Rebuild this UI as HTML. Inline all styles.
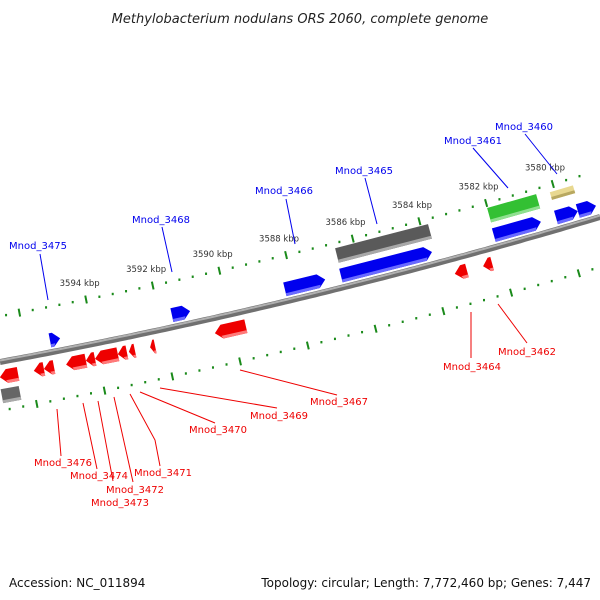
<!DOCTYPE html>
<html><head><meta charset="utf-8"><style>
body{margin:0;background:#fff}
svg{display:block;font-family:"DejaVu Sans","Liberation Sans",sans-serif}
</style></head><body>
<svg id="c" width="600" height="600" viewBox="0 0 600 600">
<text x="300" y="23" text-anchor="middle" font-size="13" font-style="italic" fill="#222">Methylobacterium nodulans ORS 2060, complete genome</text>
<text x="9" y="587" font-size="12" fill="#111">Accession: NC_011894</text>
<text x="591" y="587" font-size="12" fill="#111" text-anchor="end">Topology: circular; Length: 7,772,460 bp; Genes: 7,447</text>
<g id="ticks"></g><g id="bb"></g><g id="feat"></g><g id="lab"></g>
</svg>
<script>
// data
const featNames=["3475","3468","3466","3465","b5","b6","b7","g-left","grey-cds","green-cds","yellow-cds","r1","r2","r3","r4","r5","r6","r7","r8","r9","r10","r11","r12"];
const featStart=[3595.34,3591.71,3588.35,3586.68,3582.13,3580.28,3579.63,3596.77,3586.8,3582.27,3580.43,3596.83,3595.82,3595.52,3594.86,3594.27,3594.0,3593.32,3592.99,3592.36,3590.43,3583.29,3582.45];
const featEnd=[3595.04,3591.17,3587.15,3583.97,3580.73,3579.63,3579.09,3596.23,3584.03,3580.81,3579.74,3596.29,3595.52,3595.22,3594.27,3594.0,3593.32,3593.05,3592.81,3592.21,3589.51,3582.93,3582.18];
const featType=["b","b","b","b","b","b","b","gl","gr","gn","ye","r","r","r","r","r","r","r","r","r","r","r","r"];
const majorTicks=[3596,3594,3592,3590,3588,3586,3584,3582,3580];
const tickLabels=["","3594 kbp","3592 kbp","3590 kbp","3588 kbp","3586 kbp","3584 kbp","3582 kbp","3580 kbp"];
const labNames=["Mnod_3475","Mnod_3468","Mnod_3466","Mnod_3465","Mnod_3461","Mnod_3460","Mnod_3476","Mnod_3474","Mnod_3472","Mnod_3473","Mnod_3471","Mnod_3470","Mnod_3469","Mnod_3467","Mnod_3464","Mnod_3462"];
const labX=[38,161,284,364,473,524,63,99,135,120,163,218,279,339,472,527];
const labY=[249,223,194,174,144,130,466,479,493,506,476,433,419,405,370,355];
const labLines=[[40,254,48,300],[162,227,172,272],[286,199,295,244],[365,178,377,224],[473,148,508,188],[525,134,557,174],[57,409,61,456],[83,403,97,469],[98,401,113,481],[114,397,133,482],[130,394,155,440,160,466],[140,392,215,423],[160,388,277,408],[240,370,337,395],[471,312,471,358],[498,304,527,343]];

const NS="http://www.w3.org/2000/svg";
function mk(t,a,p){const e=document.createElementNS(NS,t);for(const k in a)e.setAttribute(k,a[k]);p.appendChild(e);return e;}
function xOf(k){return 95+(3594-k)*33.6;}
function by(x){const t=x/600;return (1-t)*(1-t)*362+2*t*(1-t)*306.5+t*t*217;}
function slope(x){return (by(x+0.5)-by(x-0.5));}
function pt(x,d){const s=slope(x),L=Math.hypot(1,s);return [x+s/L*d, by(x)-d/L];}
function P(a){return a.map(p=>p[0].toFixed(1)+','+p[1].toFixed(1)).join(' ');}
let e;

// backbone
const bb=document.getElementById('bb');
let pd="";for(let x=0;x<=600;x+=5){pd+=(x?"L":"M")+x+","+by(x).toFixed(1);}
e=mk('path',{d:pd,fill:'none',stroke:'#707070','stroke-width':6},bb);


e=mk('path',{d:pd,fill:'none',stroke:'#b0b0b0','stroke-width':2,transform:'translate(0,-1.5)'},bb);



// ticks
const tg=document.getElementById('ticks');
for(const side of [45,-48]){
  for(let i=0;i<=45;i++){
    const k=3597.2-i*0.4;const x=xOf(k);if(x<-10||x>610)continue;
    const isMaj=Math.abs(k/2-Math.round(k/2))<0.01;
    if(isMaj){const a=pt(x,side-4),b=pt(x,side+4);
      e=mk('line',{x1:a[0],y1:a[1],x2:b[0],y2:b[1],stroke:'#1a8a1a','stroke-width':2},tg);
      
      
    } else {const a=pt(x,side);
      e=mk('rect',{x:a[0]-1,y:a[1]-1.2,width:2,height:2.4,fill:'#1a8a1a'},tg);
      
      }
  }
}
majorTicks.forEach((k,i)=>{if(!tickLabels[i])return;const a=pt(xOf(k),62);
  e=mk('text',{x:a[0]-3,y:a[1]+3,'font-size':8.5,fill:'#333','text-anchor':'middle'},tg);
  e.textContent=tickLabels[i];
  
  });

// features
const fg=document.getElementById('feat');
const sty={b:['#0000ee','#6a6aff',5,19,1],r:['#ee0000','#ff7a7a',-8,-22,-1],gl:['#666','#aaa',-27,-41,0],gr:['#5a5a5a','#a8a8a8',25,40,0],gn:['#33c033','#8fe08f',25,40,0],ye:['#e8d890','#b8a860',30,38,0]};
function fx(k,dm){const x=xOf(k);const s=slope(x),L=Math.hypot(1,s);return x-s/L*dm;}
featStart.forEach((s,i)=>{
  const st=sty[featType[i]];const d1=st[2],d2=st[3],dir=st[4],dm=(d1+d2)/2;
  let x1=fx(s,dm),x2=fx(featEnd[i],dm);
  const len=x2-x1;
  let poly;
  if(dir===0){poly=[pt(x1,d1),pt(x2,d1),pt(x2,d2),pt(x1,d2)];}
  else{const h=Math.min(7,len*0.7);
    if(dir>0)poly=[pt(x1,d1),pt(x2-h,d1),pt(x2,dm),pt(x2-h,d2),pt(x1,d2)];
    else poly=[pt(x2,d1),pt(x1+h,d1),pt(x1,dm),pt(x1+h,d2),pt(x2,d2)];}
  e=mk('polygon',{points:P(poly),fill:st[0]},fg);
  
  
  const lo=Math.min(d1,d2),sd=lo+3;let strip;
  const h=Math.min(7,len*0.7);
  if(dir===0)strip=[pt(x1,lo),pt(x2,lo),pt(x2,sd),pt(x1,sd)];
  else if(dir>0)strip=[pt(x1,lo),pt(x2-h,lo),pt(x2-h*0.8,sd),pt(x1,sd)];
  else strip=[pt(x2,lo),pt(x1+h,lo),pt(x1+h*0.8,sd),pt(x2,sd)];
  e=mk('polygon',{points:P(strip),fill:st[1]},fg);
  
  
});

// labels
const lg=document.getElementById('lab');
labNames.forEach((n,i)=>{const col=i<6?'#0000ee':'#ee0000';const L=labLines[i];
  let d="M"+L[0]+","+L[1];for(let j=2;j<L.length;j+=2)d+="L"+L[j]+","+L[j+1];
  e=mk('path',{d:d,fill:'none',stroke:col,'stroke-width':1},lg);
  
  
  e=mk('text',{x:labX[i],y:labY[i],'font-size':10,fill:col,'text-anchor':'middle'},lg);
  e.textContent=n;
  
  
});
</script>
</body></html>
